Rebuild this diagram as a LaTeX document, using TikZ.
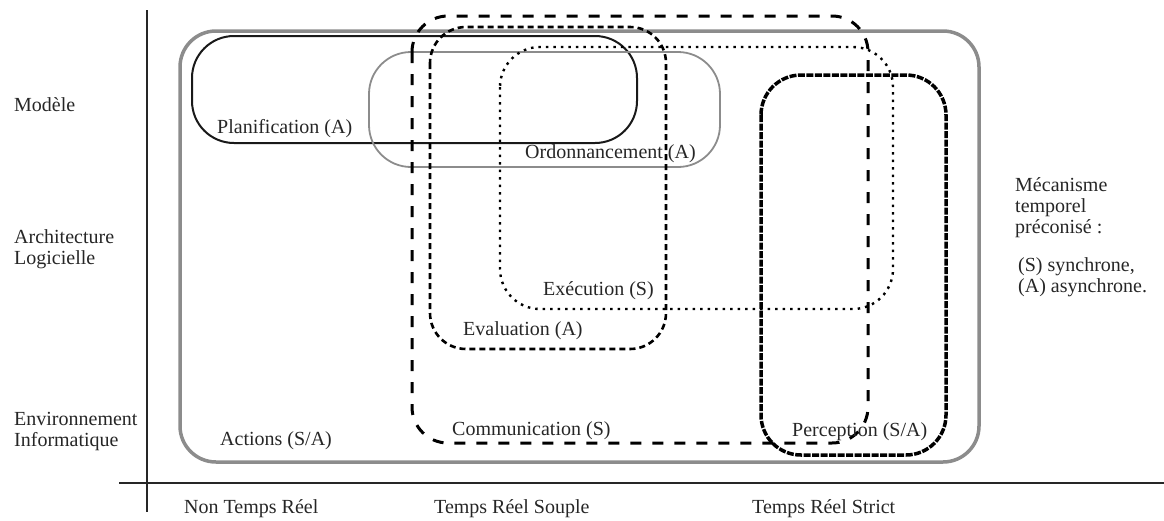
\documentclass[tikz,border=0pt]{standalone}
\usepackage{fontspec}
\setmainfont{Liberation Serif}
\usetikzlibrary{positioning}

\begin{document}
\begin{tikzpicture}[x=1pt, y=-1pt,
    every node/.style={inner sep=0pt, anchor=base west, text=black!85,
        font=\fontsize{20}{21}\selectfont},
    axis/.style={line width=2pt, black!85},
    actionsbox/.style={line width=3.5pt, black!45, rounded corners=36pt},
    planbox/.style={line width=2pt, black!90, rounded corners=42pt},
    ordobox/.style={line width=1.8pt, black!45, rounded corners=42pt},
    commbox/.style={line width=3pt, black, rounded corners=36pt,
        dash pattern=on 11pt off 11pt},
    evalbox/.style={line width=2.6pt, black, rounded corners=36pt,
        dash pattern=on 6pt off 4pt},
    execbox/.style={line width=2.4pt, black, rounded corners=40pt,
        dash pattern=on 2.5pt off 5pt},
    percbox/.style={line width=3.5pt, black, rounded corners=40pt,
        dash pattern=on 7pt off 1.5pt} ]

    \useasboundingbox (0,0) rectangle (1164,520);

    % axes
    \coordinate (ytop) at (147,10);
    \coordinate (ybot) at (147,512);
    \coordinate (xleft) at (119,483);
    \coordinate (xright) at (1164,483);
    \draw[axis] (ytop) -- (ybot);
    \draw[axis] (xleft) -- (xright);

    % zones
    \draw[actionsbox] (180,31) rectangle (979,462);
    \draw[planbox] (192,36) rectangle (637,143);
    \draw[ordobox] (369,52) rectangle (720,167);
    \draw[execbox] (500,47) rectangle (893,309);
    \draw[evalbox] (430,27) rectangle (666,349);
    \draw[commbox] (412,16) rectangle (868,443);
    \draw[percbox] (761,75) rectangle (946,455);

    % zone labels
    \node (plan) at (217,133) {Planification (A)};
    \node (ordo) at (525,158) {Ordonnancement (A)};
    \node (exec) at (543,295) {Exécution (S)};
    \node (eval) at (463,335) {Evaluation (A)};
    \node (comm) at (452,435) {Communication (S)};
    \node (actions) at (220,445) {Actions (S/A)};
    \node (perc) at (792,436) {Perception (S/A)};

    % levels
    \node (modele) at (14,111) {Modèle};
    \node[align=left] (archi) at (14,264) {Architecture\\Logicielle};
    \node[align=left] (envir) at (14,446) {Environnement\\Informatique};

    % time constraints
    \node (ntr) at (184,513) {Non Temps Réel};
    \node (trsouple) at (434,513) {Temps Réel Souple};
    \node (trstrict) at (752,513) {Temps Réel Strict};

    % legend
    \node[align=left] (meca) at (1015,233) {Mécanisme\\temporel\\préconisé :};
    \node[align=left] (legend) at (1018,292) {(S) synchrone,\\(A) asynchrone.};

\end{tikzpicture}
\end{document}
